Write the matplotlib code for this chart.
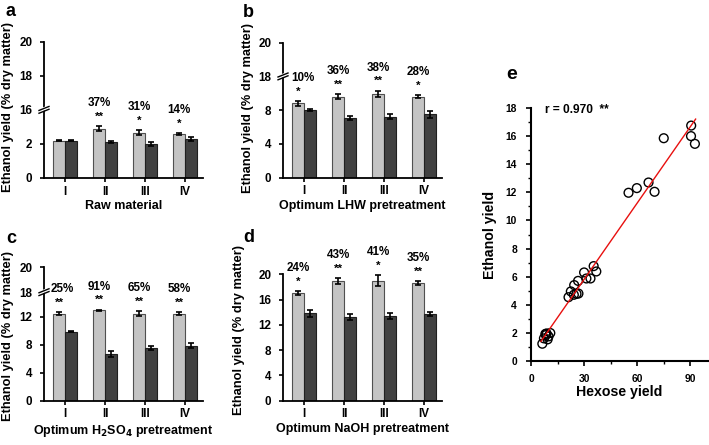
import numpy as np
import matplotlib
matplotlib.use("Agg")
import matplotlib.pyplot as plt

plt.rcParams['font.family'] = ['Liberation Sans', 'DejaVu Sans']
plt.rcParams['font.weight'] = 'bold'
plt.rcParams['axes.labelweight'] = 'bold'

# ---------------- data ----------------
groups = ['I', 'II', 'III', 'IV']

a_light = [2.2, 2.88, 2.67, 2.59]
a_light_err = [0.05, 0.15, 0.12, 0.05]
a_dark = [2.2, 2.1, 2.0, 2.27]
a_dark_err = [0.05, 0.05, 0.12, 0.12]
a_pct = ['', '37%', '31%', '14%']
a_sig = ['', '**', '*', '*']

b_light = [8.8, 9.6, 9.95, 9.6]
b_light_err = [0.3, 0.3, 0.35, 0.2]
b_dark = [8.0, 7.08, 7.2, 7.5]
b_dark_err = [0.15, 0.25, 0.3, 0.4]
b_pct = ['10%', '36%', '38%', '28%']
b_sig = ['*', '**', '**', '*']

c_light = [12.43, 12.9, 12.4, 12.4]
c_light_err = [0.2, 0.12, 0.35, 0.2]
c_dark = [9.85, 6.7, 7.5, 7.85]
c_dark_err = [0.1, 0.4, 0.3, 0.35]
c_pct = ['25%', '91%', '65%', '58%']
c_sig = ['**', '**', '**', '**']

d_light = [17.0, 18.9, 19.0, 18.6]
d_light_err = [0.3, 0.5, 0.85, 0.3]
d_dark = [13.8, 13.2, 13.45, 13.7]
d_dark_err = [0.5, 0.45, 0.45, 0.3]
d_pct = ['24%', '43%', '41%', '35%']
d_sig = ['*', '**', '*', '**']

# y tick positions (plot units) and their labels for the broken axes
a_yticks = [0, 2, 4, 6, 8]
a_yticklabels = ['0', '2', '16', '18', '20']
b_yticks = [0, 4, 8, 12, 16]
b_yticklabels = ['0', '4', '8', '18', '20']
c_yticks = [0, 4, 8, 12, 15.5, 19.05]
c_yticklabels = ['0', '4', '8', '12', '18', '20']
d_yticks = [0, 4, 8, 12, 16, 20]
d_yticklabels = ['0', '4', '8', '12', '16', '20']

hexose = [75.0, 90.4, 92.6, 90.5,
          55.1, 59.8, 66.4, 69.8,
          21.2, 22.5, 24.4, 26.6, 24.2, 25.7, 26.8, 30.0, 31.3, 33.6, 35.4, 36.9,
          6.4, 7.3, 8.1, 8.8, 9.4, 10.9, 9.9, 8.5]
ethanol = [15.85, 16.0, 15.45, 16.75,
           11.97, 12.3, 12.7, 12.04,
           4.54, 4.95, 5.40, 5.70, 4.71, 4.78, 4.80, 6.30, 5.87, 5.87, 6.75, 6.37,
           1.23, 1.61, 1.92, 1.96, 1.54, 1.99, 1.75, 1.85]
r_text = 'r = 0.970  **'

# ---------------- layout ----------------
W, H = 709, 445
fig = plt.figure(figsize=(W / 100, H / 100), dpi=100)

LIGHT = '#c4c4c4'
DARK = '#414141'


def rect(left, top, right, bottom):
    return [left / W, 1 - bottom / H, (right - left) / W, (bottom - top) / H]


def bar_panel(r, light, lerr, dark, derr, pct, sig, yticks, yticklabels,
              xlabel, letter, letter_xy, ylab_xy, breakpos=None, first_dx=0.0):
    ax = fig.add_axes(r)
    x = np.arange(len(groups))
    bw = 0.3
    ax.bar(x - bw / 2, light, bw, color=LIGHT, edgecolor='#505050', linewidth=0.8,
           yerr=lerr, error_kw=dict(ecolor='black', elinewidth=1.2, capsize=2.5, capthick=1.2))
    ax.bar(x + bw / 2, dark, bw, color=DARK, edgecolor='#202020', linewidth=0.8,
           yerr=derr, error_kw=dict(ecolor='black', elinewidth=1.2, capsize=2.5, capthick=1.2))
    ax.set_xlim(-0.53, 3.45)
    ax.set_ylim(yticks[0], yticks[-1])
    ax.set_yticks(yticks)
    ax.set_yticklabels(yticklabels)
    ax.set_xticks(x)
    ax.set_xticklabels(groups)
    for s in ['top', 'right']:
        ax.spines[s].set_visible(False)
    for s in ['left', 'bottom']:
        ax.spines[s].set_linewidth(1.3)
    ax.tick_params(axis='both', direction='out', length=3, width=1.2, labelsize=8.4)
    ax.tick_params(axis='y', pad=5.5)
    ax.tick_params(axis='x', pad=2.5)
    for lab in ax.get_xticklabels() + ax.get_yticklabels():
        lab.set_fontweight('bold')
    ax.set_xlabel(xlabel, fontsize=9, fontweight='bold', labelpad=2)
    ax.set_ylabel('Ethanol yield (% dry matter)', fontsize=9.3, fontweight='bold')
    wpx, hpx = r[2] * W, r[3] * H
    lpx = r[0] * W
    tpx = (1 - r[1] - r[3]) * H
    ax.yaxis.set_label_coords((ylab_xy[0] - lpx) / wpx, 1 - (ylab_xy[1] - tpx) / hpx)
    for i, (xi, v, e, p, s) in enumerate(zip(x, light, lerr, pct, sig)):
        dx = first_dx if i == 0 else 0.0
        if s:
            ax.annotate(s, xy=(xi - bw / 2, v + e), xytext=(0, 4.6), textcoords='offset points',
                        ha='center', va='baseline', fontsize=8.2, fontweight='bold',
                        annotation_clip=False)
        if p:
            ax.annotate(p, xy=(xi - bw / 2, v + e), xytext=(dx, 14.4), textcoords='offset points',
                        ha='center', va='baseline', fontsize=8.4, fontweight='bold',
                        annotation_clip=False)
    if breakpos is not None:
        ppu = hpx / (yticks[-1] - yticks[0])
        tr = ax.get_yaxis_transform()
        dx = 5 / wpx
        ax.plot([-0.6 * dx, 0.6 * dx], [breakpos - 0.2 / ppu, breakpos + 2.2 / ppu],
                color='white', lw=2.5, transform=tr, clip_on=False, zorder=5)
        for off in (-1.4, 1.4):
            ax.plot([-dx, dx], [breakpos + (off - 2.0) / ppu, breakpos + (off + 2.0) / ppu],
                    color='black', lw=1.0, transform=tr, clip_on=False, zorder=6)
    fig.text(letter_xy[0] / W, 1 - letter_xy[1] / H, letter, fontsize=13, fontweight='bold',
             ha='left', va='baseline')
    return ax


bar_panel(rect(44, 41.7, 203, 178), a_light, a_light_err, a_dark, a_dark_err, a_pct, a_sig,
          a_yticks, a_yticklabels, 'Raw material', 'a', (5, 16.5), (14.5, 107),
          breakpos=4)
bar_panel(rect(283, 42.7, 442, 177.5), b_light, b_light_err, b_dark, b_dark_err, b_pct, b_sig,
          b_yticks, b_yticklabels, 'Optimum LHW pretreatment', 'b', (243, 17), (253.5, 108),
          breakpos=12, first_dx=3.5)
bar_panel(rect(44, 267.3, 203, 400.7), c_light, c_light_err, c_dark, c_dark_err, c_pct, c_sig,
          c_yticks, c_yticklabels, 'Optimum H$_\\mathbf{2}$SO$_\\mathbf{4}$ pretreatment', 'c',
          (6, 243), (14, 336), breakpos=15.5, first_dx=2.0)
bar_panel(rect(283, 274.3, 442, 400.7), d_light, d_light_err, d_dark, d_dark_err, d_pct, d_sig,
          d_yticks, d_yticklabels, 'Optimum NaOH pretreatment', 'd', (243, 241.5), (245, 330))

# ---------------- panel e ----------------
re_ = rect(531, 108, 708, 361)
axe = fig.add_axes(re_)
hx = np.array(hexose)
ey = np.array(ethanol)
slope, intercept = np.polyfit(hx, ey, 1)
xl = np.array([hx.min() - 0.8, hx.max() + 0.4])
axe.scatter(hx, ey, s=40, facecolors='none', edgecolors='black', linewidths=1.0, zorder=2)
axe.plot(xl, slope * xl + intercept, color='#e8100f', lw=1.0, zorder=3)
axe.set_xlim(0, 100)
axe.set_ylim(0, 18)
axe.set_xticks([0, 30, 60, 90])
axe.set_xticks([15, 45, 75], minor=True)
axe.set_yticks(np.arange(0, 19, 2))
axe.set_yticks(np.arange(1, 18, 2), minor=True)
for s in ['top', 'right']:
    axe.spines[s].set_visible(False)
for s in ['left', 'bottom']:
    axe.spines[s].set_linewidth(1.5)
axe.tick_params(axis='both', which='major', direction='out', length=3.5, width=1.2,
                labelsize=7.4)
axe.tick_params(axis='y', which='major', pad=6.5)
axe.tick_params(axis='x', which='major', pad=5.5)
axe.tick_params(axis='both', which='minor', direction='out', length=2, width=1.0)
for lab in axe.get_xticklabels() + axe.get_yticklabels():
    lab.set_fontweight('bold')
axe.set_xlabel('Hexose yield', fontsize=10.2, fontweight='bold', labelpad=1)
axe.set_ylabel('Ethanol yield', fontsize=10.2, fontweight='bold', labelpad=6)
axe.text(8, 17.85, r_text, fontsize=8.6, fontweight='bold', ha='left', va='center')
fig.text(506 / W, 1 - 79 / H, 'e', fontsize=14, fontweight='bold', ha='left', va='baseline')

fig.savefig('out.png', dpi=100)
